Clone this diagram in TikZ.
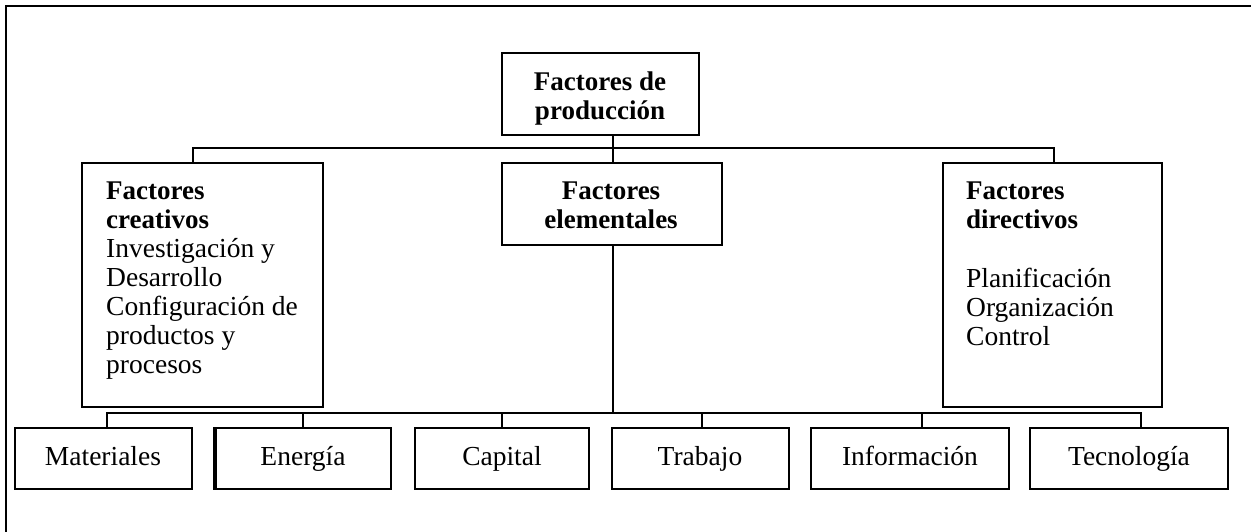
\documentclass[tikz,border=0pt]{standalone}
\usepackage{fontspec}
\setmainfont{Liberation Serif}
\begin{document}
\begin{tikzpicture}[x=1pt,y=-1pt,
  box/.style={draw,line width=1.4pt},
  wire/.style={draw,line width=1.3pt},
  txt/.style={font=\fontsize{27.5}{29}\selectfont,inner sep=0pt},
  hdr/.style={txt,font=\fontsize{27}{29}\selectfont\bfseries},
  lbl/.style={txt,anchor=base}]
\useasboundingbox (0,0) rectangle (1251,532);
% outer frame (top and left edges only)
\draw[line width=2pt] (1251,6) -- (6,6) -- (6,532);

% boxes
\draw[box] (502,53) rectangle (699,135);
\coordinate (top) at (613,135);
\draw[box] (82,163) rectangle (323,407);
\draw[box] (502,163) rectangle (722,245);
\draw[box] (943,163) rectangle (1162,407);

% first level connector
\coordinate (busA) at (613,148);
\coordinate (cre) at (193,163);
\coordinate (ele) at (613,163);
\coordinate (dir) at (1054,163);
\draw[wire] (top) -- (busA);
\draw[wire] (cre) -- (193,148) -- (1054,148) -- (dir);
\draw[wire] (busA) -- (ele);

% bottom boxes
\draw[box] (15,428) rectangle (192,489);
\draw[box] (214,428) rectangle (391,489);
\draw[line width=3.5pt] (215,427.3) -- (215,489.7);
\draw[box] (415,428) rectangle (589,489);
\draw[box] (612,428) rectangle (789,489);
\draw[box] (811,428) rectangle (1009,489);
\draw[box] (1030,428) rectangle (1228,489);

% second level connector
\coordinate (eleB) at (613,245);
\coordinate (busB) at (613,413);
\draw[wire] (eleB) -- (busB);
\draw[wire] (107,428) -- (107,413) -- (1141,413) -- (1141,428);
\draw[wire] (303,413) -- (303,428);
\draw[wire] (502,413) -- (502,428);
\draw[wire] (702,413) -- (702,428);
\draw[wire] (922,413) -- (922,428);

% texts
\node[hdr,anchor=base] (t1) at (600,91) {Factores de};
\node[hdr,anchor=base] (t2) at (600,120) {producción};

\node[hdr,anchor=base west] (c1) at (106,200) {Factores};
\node[hdr,anchor=base west] (c2) at (106,228) {creativos};
\node[txt,anchor=base west] (c3) at (106,257) {Investigación y};
\node[txt,anchor=base west] (c4) at (106,286) {Desarrollo};
\node[txt,anchor=base west] (c5) at (106,315) {Configuración de};
\node[txt,anchor=base west] (c6) at (106,344) {productos y};
\node[txt,anchor=base west] (c7) at (106,373) {procesos};

\node[hdr,anchor=base] (e1) at (611,200) {Factores};
\node[hdr,anchor=base] (e2) at (611,228) {elementales};

\node[hdr,anchor=base west] (d1) at (966,200) {Factores};
\node[hdr,anchor=base west] (d2) at (966,228) {directivos};
\node[txt,anchor=base west] (d3) at (966,287) {Planificación};
\node[txt,anchor=base west] (d4) at (966,316) {Organización};
\node[txt,anchor=base west] (d5) at (966,345) {Control};

\node[lbl] (m1) at (103,465) {Materiales};
\node[lbl] (m2) at (303,465) {Energía};
\node[lbl] (m3) at (502,465) {Capital};
\node[lbl] (m4) at (700,465) {Trabajo};
\node[lbl] (m5) at (910,465) {Información};
\node[lbl] (m6) at (1129,465) {Tecnología};
\end{tikzpicture}
\end{document}
